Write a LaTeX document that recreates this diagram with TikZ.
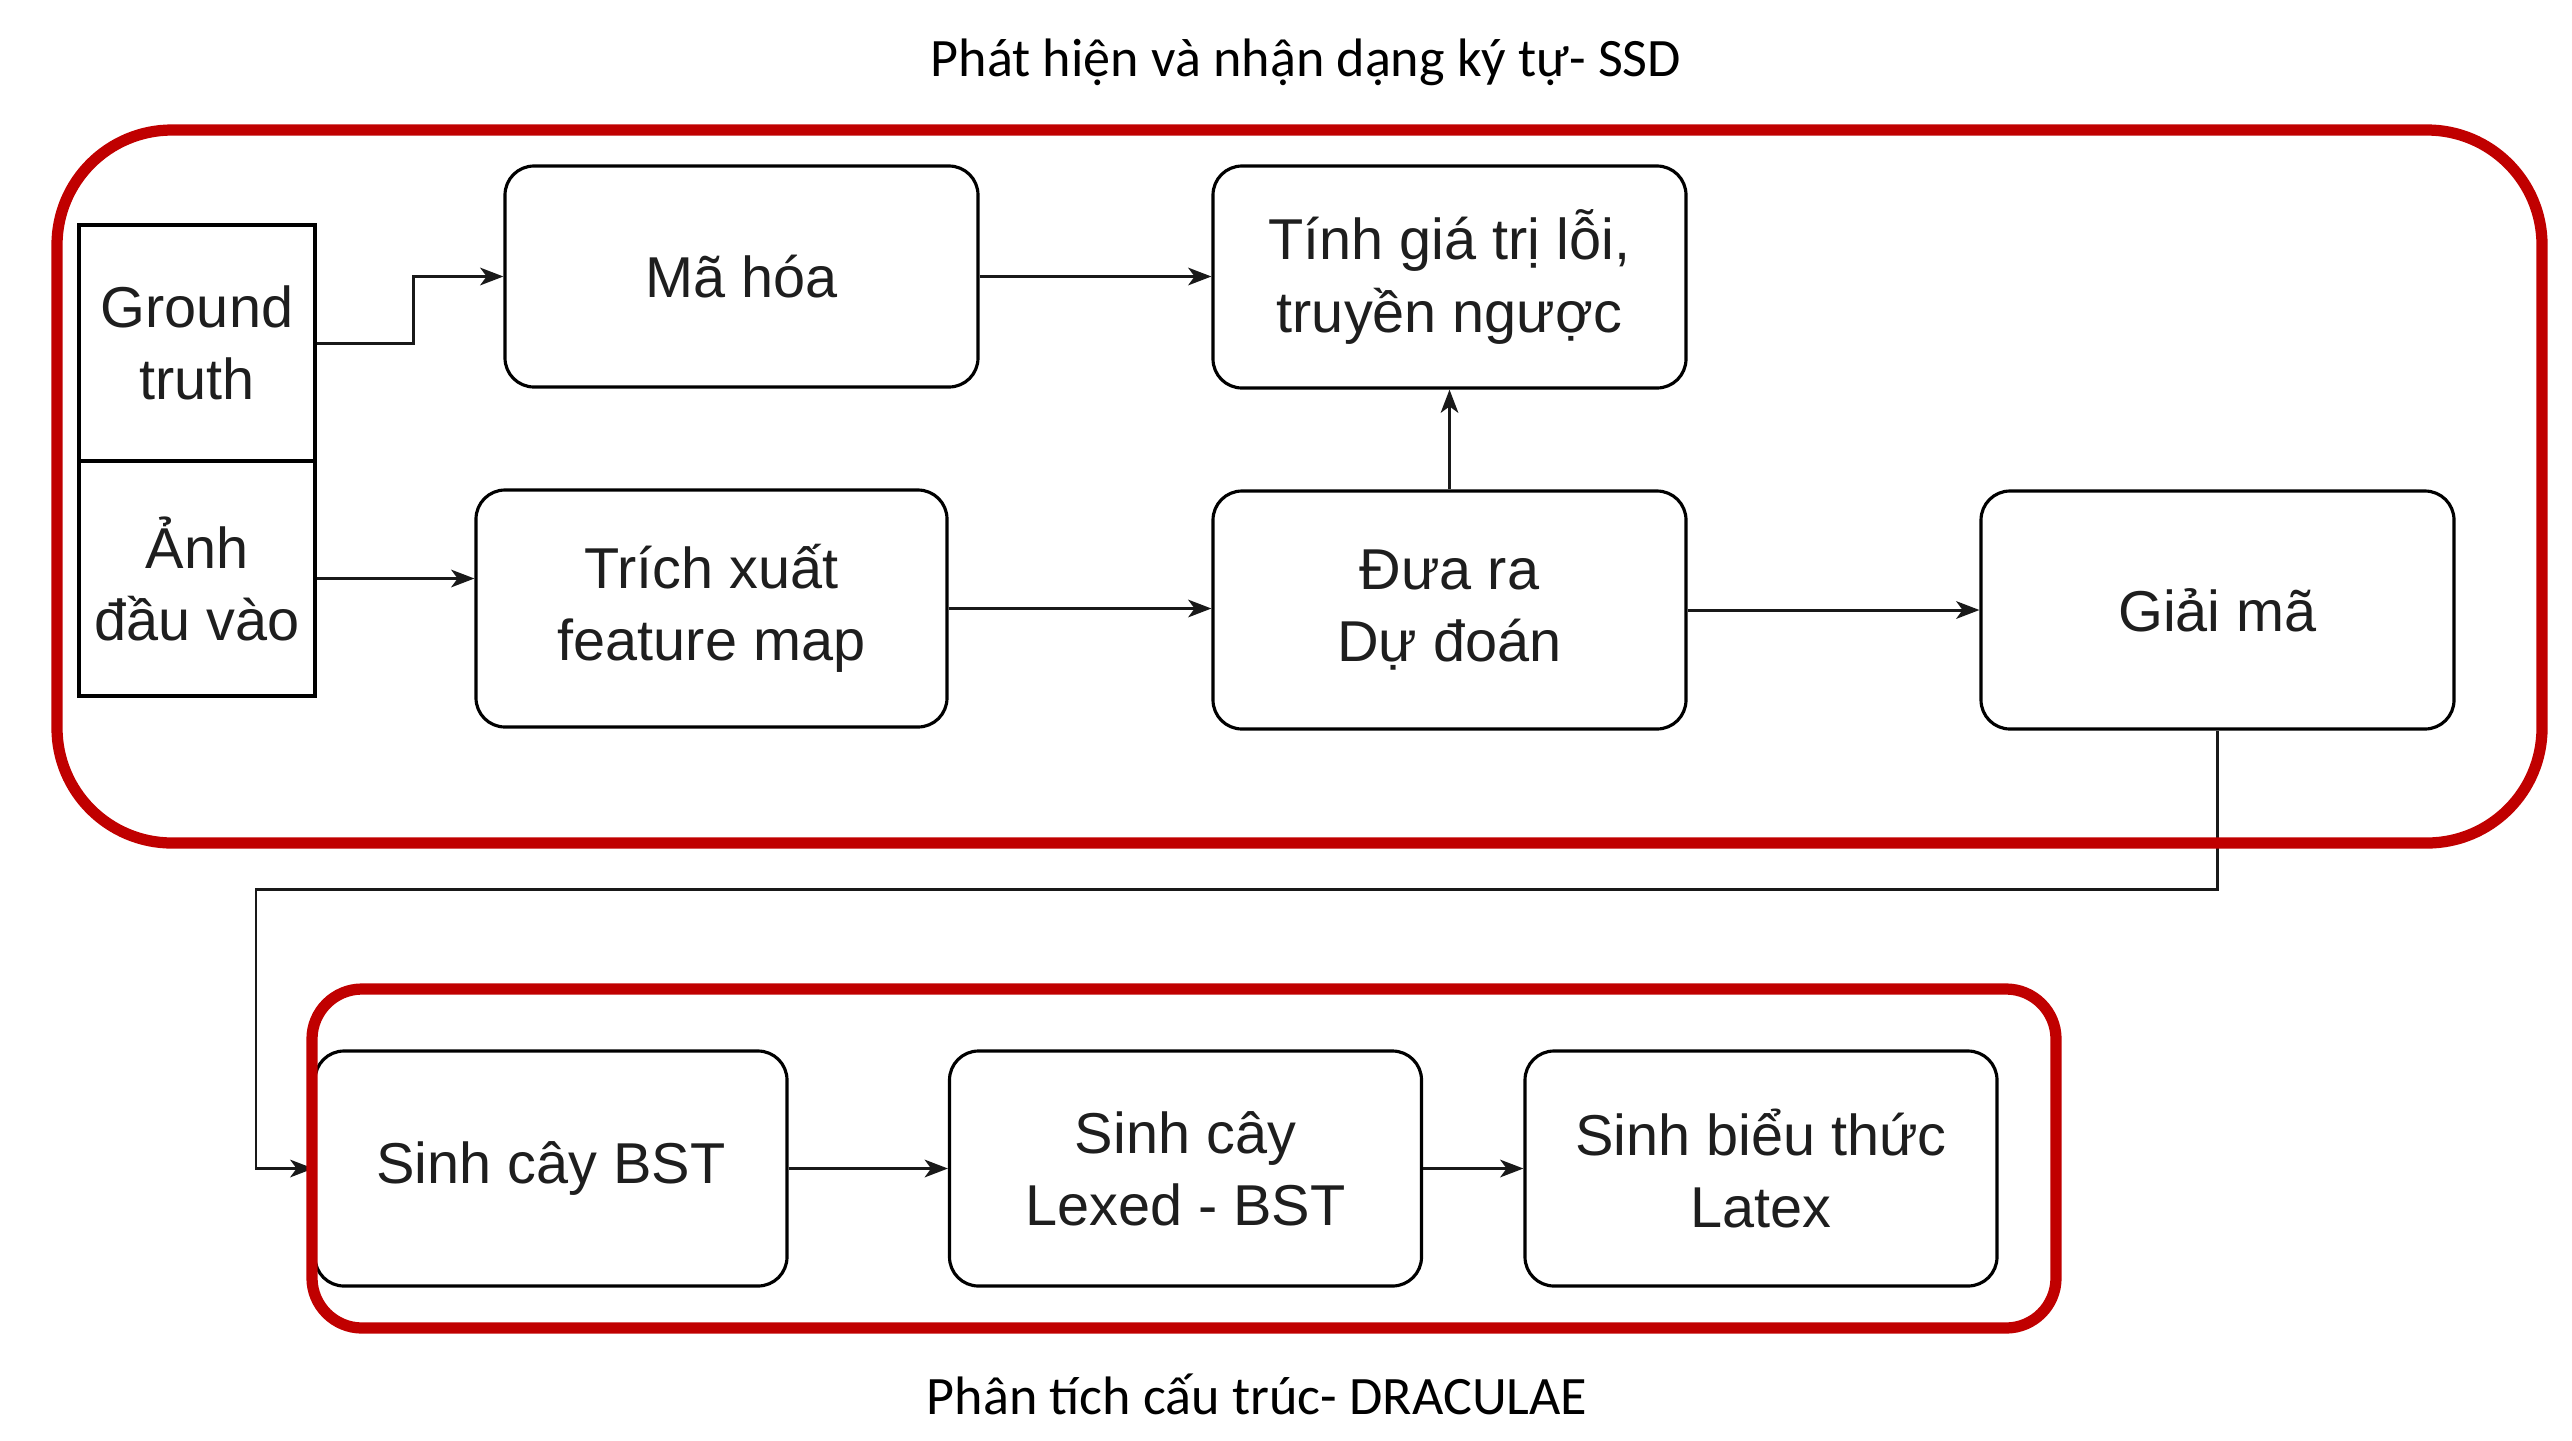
\documentclass[tikz,border=0pt]{standalone}
\usepackage{fontspec}
\setmainfont{Liberation Sans}
\newfontfamily\titlefont{Carlito}
\usetikzlibrary{arrows.meta,calc}
\definecolor{frame}{HTML}{C00000}
\definecolor{txt}{HTML}{1E1E1E}
\tikzset{
  box/.style={draw=black, line width=0.9pt, rounded corners=0.29cm, align=center,
    text=txt, inner sep=0pt, font=\fontsize{16.4}{20.5}\selectfont},
  sqbox/.style={draw=black, line width=0.9pt, align=center, text=txt, inner sep=0pt,
    minimum width=2.36cm, minimum height=2.36cm, font=\fontsize{16.4}{20.5}\selectfont},
  redframe/.style={draw=frame, line width=3.2pt},
  conn/.style={draw=black!90, line width=0.85pt, -{Stealth[length=6.6pt,width=5pt,inset=1.8pt]}},
  ttl/.style={font=\titlefont\fontsize{15.4}{18}\selectfont, text=black, inner sep=0pt}
}
\begin{document}
\begin{tikzpicture}
\useasboundingbox (0,0) rectangle (25.72,-14.40);
% titles
\node[ttl] (t1) at (13.06,-0.62) {Phát hiện và nhận dạng ký tự- SSD};
\node[ttl] (t2) at (12.57,-13.94) {Phân tích cấu trúc- DRACULAE};
% boxes
\node[sqbox] (gt) at (1.97,-3.43) {Ground\\truth};
\node[sqbox, minimum height=2.35cm] (anh) at (1.97,-5.785) {Ảnh\\đầu vào};
\node[box, minimum width=4.73cm, minimum height=2.21cm] (ma) at (7.415,-2.765) {Mã hóa};
\node[box, minimum width=4.71cm, minimum height=2.37cm] (trich) at (7.115,-6.085) {Trích xuất\\feature map};
\node[box, minimum width=4.73cm, minimum height=2.22cm] (tinh) at (14.495,-2.77) {Tính giá trị lỗi,\\truyền ngược};
\node[box, minimum width=4.73cm, minimum height=2.38cm] (dua) at (14.495,-6.10) {Đưa ra\\Dự đoán};
\node[box, minimum width=4.73cm, minimum height=2.38cm] (giai) at (22.175,-6.10) {Giải mã};
\node[box, minimum width=4.72cm, minimum height=2.35cm] (bst) at (5.51,-11.685) {Sinh cây BST};
\node[box, minimum width=4.72cm, minimum height=2.35cm] (lexed) at (11.855,-11.685) {Sinh cây\\Lexed - BST};
\node[box, minimum width=4.72cm, minimum height=2.35cm] (latex) at (17.61,-11.685) {Sinh biểu thức\\Latex};
% connectors
\draw[conn] (gt.east) -- ++(0.97,0) |- (ma.west);
\draw[conn] (anh.east) -- (anh.east -| trich.west);
\draw[conn] (ma.east) -- (ma.east -| tinh.west);
\draw[conn] (trich.east) -- (trich.east -| dua.west);
\draw[conn] (dua.north) -- (tinh.south);
\draw[conn] (dua.east) -- (giai.west);
\coordinate (c1) at (22.175,-8.89);
\coordinate (c2) at (2.56,-8.89);
\draw[conn] (giai.south) -- (c1) -- (c2) |- (bst.west);
\draw[conn] (bst.east) -- (lexed.west);
\draw[conn] (lexed.east) -- (latex.west);
% red frames (on top)
\draw[redframe, rounded corners=1.15cm] (0.57,-1.30) rectangle (25.42,-8.43);
\draw[redframe, rounded corners=0.5cm] (3.12,-9.89) rectangle (20.56,-13.28);
\end{tikzpicture}
\end{document}
